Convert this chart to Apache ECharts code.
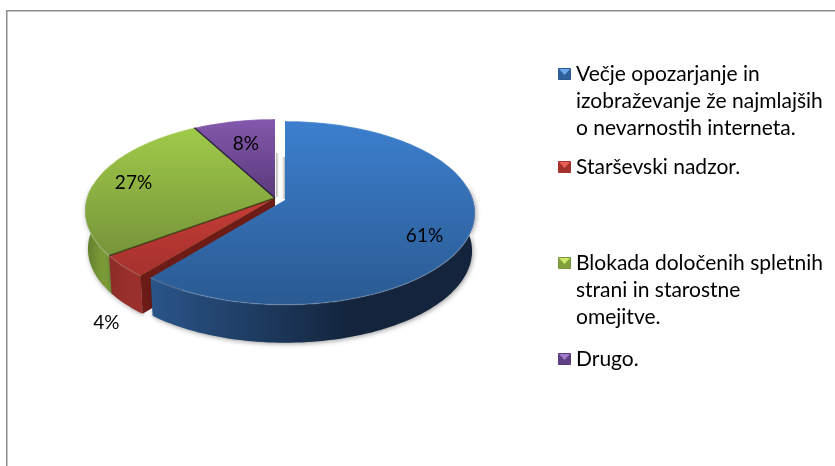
<!DOCTYPE html>
<html>
<head>
<meta charset="utf-8">
<style>
  html, body { margin: 0; padding: 0; background: #fff; }
  #main { width: 835px; height: 466px; }
</style>
<script src="https://cdn.jsdelivr.net/npm/echarts@6/dist/echarts.min.js"></script>
</head>
<body>
<div id="main"></div>
<script>
// ------------------------------  data ---------------------------
const categories = [
  'Večje opozarjanje in\nizobraževanje že najmlajših\no nevarnostih interneta.',
  'Starševski nadzor.',
  'Blokada določenih spletnih\nstrani in starostne\nomejitve.',
  'Drugo.'
];
const values = [61, 4, 27, 8];
const percentLabels = ['61%', '4%', '27%', '8%'];

// ------------------------------  look ---------------------------
const topColors = [['#3c7fce', '#2a5a92'], ['#c63c37', '#a5312d'], ['#a0ca49', '#76943a'], ['#8358ac', '#5a3a7c']];
const wallColors = [['#2a5589', '#13243c'], ['#8c2c28', '#9a302b'], ['#5f7c2c', '#7a9a38'], ['#5a3a7c', '#4a2f66']];
const faceColors = [null, '#6c1b17', '#566f29', '#4a2f66'];
const edgeColors = [null, null, 'rgba(40,50,10,0.7)', 'rgba(30,15,50,0.85)'];
const swatchColors = [['#6aa8ea', '#2f6199'], ['#e8605a', '#a5312d'], ['#cce86a', '#82a03e'], ['#a27ccc', '#5f4084']];
const layers = [10, 3, 2, 1];
const apexes = [[285, 200], [275, 198], [275, 198], [275, 198]];
// label spot: fraction of radius along the slice's middle, then a nudge down
const labelSpots = [[0.76, 12], [1.1, 49], [0.79, 0], [0.68, 0]];
const legendRows = [74, 167, 263, 359];

const A = 188, B = 90, P = 0.141, DEPTH = 38, BOTTOM_X = 0.985;
const LABEL_FONT = 'Lato, "Open Sans", sans-serif';

// 透视投影：圆上的点 -> 屏幕偏移
function project(deg, f) {
  const t = deg * Math.PI / 180;
  const u = Math.sin(t) * f, v = -Math.cos(t) * f;
  const w = 1 - P * v;
  return [u / w * A, v / w * B];
}

function vGrad(c) {
  return new echarts.graphic.LinearGradient(0, 0, 0, 1, [{ offset: 0, color: c[0] }, { offset: 1, color: c[1] }]);
}

const total = values.reduce((a, b) => a + b, 0);

function renderSlice(params, api) {
  const i = params.dataIndex;
  const before = values.slice(0, i).reduce((a, b) => a + b, 0);
  const start = before / total * 360;
  const end = start + api.value(0) / total * 360;
  const c = apexes[i];
  const z = layers[i];

  const rim = [];
  for (let d = start; d < end; d += 1.5) rim.push(d);
  rim.push(end);
  const topAt = d => { const p = project(d, 1); return [c[0] + p[0], c[1] + p[1]]; };
  const lowAt = d => { const p = project(d, 1); return [c[0] + p[0] * BOTTOM_X, c[1] + p[1] + DEPTH]; };
  const top = rim.map(topAt);

  const children = [];
  // outer wall, front part only
  const front = rim.filter(d => d > 80 && d < 280);
  if (front.length > 1) {
    children.push({
      type: 'polygon', z2: z,
      shape: { points: front.map(topAt).concat(front.map(lowAt).reverse()) },
      style: {
        fill: new echarts.graphic.LinearGradient(0, 0, 1, 0, [{ offset: 0, color: wallColors[i][0] }, { offset: 0.62, color: wallColors[i][1] }, { offset: 1, color: wallColors[i][1] }]),
        shadowBlur: 5, shadowColor: 'rgba(0,0,0,0.4)', shadowOffsetX: 1, shadowOffsetY: 1
      }
    });
  }
  // 切面（只有朝向观众的才画）
  if (faceColors[i] && start > 180) {
    children.push({
      type: 'polygon', z2: z,
      shape: { points: [[c[0], c[1]], topAt(start), lowAt(start), [c[0], c[1] + DEPTH]] },
      style: { fill: faceColors[i] }
    });
  }
  // top face
  children.push({
    type: 'polygon', z2: z + 1,
    shape: { points: [[c[0], c[1]]].concat(top) },
    style: { fill: vGrad(topColors[i]) }
  });
  // rim highlight
  children.push({
    type: 'polyline', z2: z + 1,
    shape: { points: top },
    style: { fill: null, stroke: 'rgba(255,255,255,0.16)', lineWidth: 1.5 }
  });
  if (edgeColors[i]) {
    children.push({
      type: 'line', z2: z + 2,
      shape: { x1: c[0], y1: c[1], x2: top[0][0], y2: top[0][1] },
      style: { stroke: edgeColors[i], lineWidth: 1.5 }
    });
  }
  // data label
  const spot = project((start + end) / 2, labelSpots[i][0]);
  children.push({
    type: 'text', z2: 20,
    style: {
      x: c[0] + spot[0], y: c[1] + spot[1] + labelSpots[i][1],
      text: percentLabels[i], fill: '#000',
      fontFamily: LABEL_FONT, fontSize: 19,
      textAlign: 'center', textVerticalAlign: 'middle'
    }
  });
  // legend entry
  const row = legendRows[i];
  children.push({
    type: 'rect', z2: 20,
    shape: { x: 558.5, y: row - 5.5, width: 12, height: 11 },
    style: { fill: swatchColors[i][1], stroke: topColors[i][1], lineWidth: 1 }
  });
  children.push({
    type: 'polygon', z2: 21,
    shape: { points: [[559, row - 5], [570, row - 5], [564.5, row + 1]] },
    style: { fill: swatchColors[i][0] }
  });
  children.push({
    type: 'text', z2: 20,
    style: {
      x: 576, y: row - 13.5,
      text: categories[i],
      fill: '#000', fontFamily: LABEL_FONT, fontSize: 21, lineHeight: 27,
      textAlign: 'left', textVerticalAlign: 'top'
    }
  });
  return { type: 'group', children: children };
}

let myChart = echarts.init(document.getElementById('main'));
myChart.setOption({
  animation: false,
  backgroundColor: '#fff',
  graphic: [
    {
      type: 'polyline',
      shape: { points: [[6.75, 466], [6.75, 10.75], [835, 10.75]] },
      style: { fill: null, stroke: '#8c8c8c', lineWidth: 1.5 },
      silent: true
    },
    // 缝隙里的淡阴影
    {
      type: 'rect', silent: true,
      shape: { x: 276, y: 153, width: 3, height: 44 },
      style: { fill: new echarts.graphic.LinearGradient(0, 0, 1, 0, [{ offset: 0, color: '#b5b5b5' }, { offset: 1, color: '#ffffff' }]) }
    },
    {
      type: 'rect', silent: true,
      shape: { x: 282, y: 157, width: 3, height: 42 },
      style: { fill: new echarts.graphic.LinearGradient(0, 0, 1, 0, [{ offset: 0, color: '#ffffff' }, { offset: 1, color: '#b5b5b5' }]) }
    }
  ],
  series: [{
    type: 'custom',
    coordinateSystem: 'none',
    silent: true,
    clip: false,
    data: values.map((v, i) => ({ name: categories[i], value: [v] })),
    renderItem: renderSlice
  }]
});
</script>
</body>
</html>
